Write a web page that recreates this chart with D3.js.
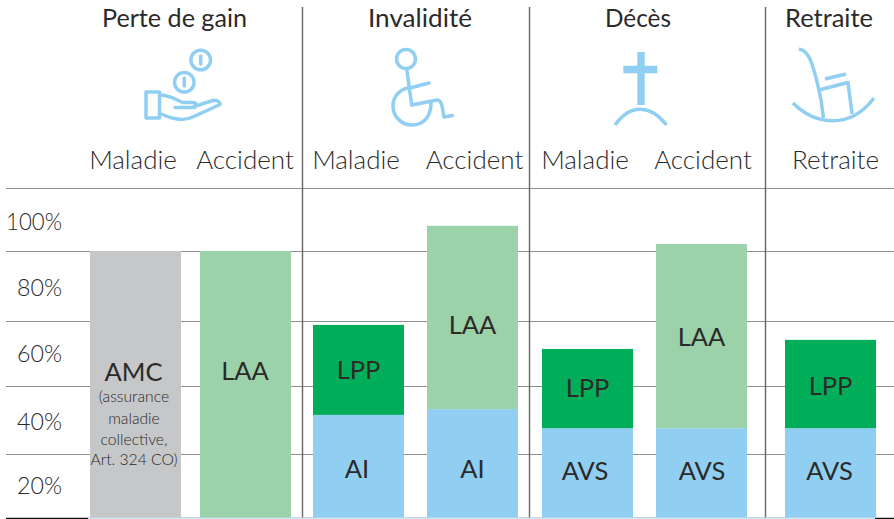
<!DOCTYPE html>
<html><head><meta charset="utf-8">
<script src="https://cdn.jsdelivr.net/npm/d3@7"></script>
<style>html,body{margin:0;padding:0;background:#fff}svg{display:block}text{font-family:Lato,sans-serif;fill:#2b2a29}</style>
</head><body><svg id="c" width="894" height="519"></svg>
<script>
const groups = ["Perte de gain","Invalidité","Décès","Retraite"];
const categories = ["Maladie","Accident","Maladie","Accident","Maladie","Accident","Retraite"];
const tickValues = [20,40,60,80,100];
const tickLabels = ["20%","40%","60%","80%","100%"];
const baseSegment = ["AMC","LAA","AI","AI","AVS","AVS","AVS"];
const baseValues = [80,80,31.5,33.2,27.6,27.6,27.6];
const topSegment = [null,null,"LPP","LAA","LPP","LAA","LPP"];
const topValues = [0,0,27.3,54.8,23.8,54.6,26.6];
const noteLines = ["(assurance","maladie","collective,","Art. 324 CO)"];
const colors = {AMC:"#c6c7c9",LAA:"#9bd2aa",LPP:"#00ae5a",AI:"#91cff2",AVS:"#91cff2"};
const blue = "#91cff2", rule="#8f8f8f";

const svg = d3.select("#c");
const y = d3.scaleLinear().domain([0,20,40,60,80,100]).range([518,454,386,321,251,188]);
const x = d3.scaleOrdinal().domain(d3.range(7)).range([90,200,313,427,542,656,785]);
const barW = 91;

// grid
svg.append("g").selectAll("line").data(tickValues).join("line")
  .attr("x1",6).attr("x2",894).attr("y1",d=>y(d)+.5).attr("y2",d=>y(d)+.5)
  .attr("stroke",rule).attr("stroke-width",1.2);
// tick labels sit below each rule
const tickY = [485,421,353,287,221];
svg.append("g").selectAll("text").data(tickLabels).join("text")
  .attr("x",62).attr("y",(d,i)=>tickY[i]).attr("dy","0.36em")
  .attr("text-anchor","end").attr("font-size",24).attr("font-weight",300)
  .attr("textLength",(d,i)=>i===4?56:45).attr("lengthAdjust","spacingAndGlyphs").text(d=>d);
// baseline
svg.append("line").attr("x1",6).attr("x2",894).attr("y1",518.5).attr("y2",518.5).attr("stroke","#111").attr("stroke-width",1.5);
// dividers
svg.append("g").selectAll("line").data([302,529,765]).join("line")
  .attr("x1",d=>d+.5).attr("x2",d=>d+.5).attr("y1",7).attr("y2",518).attr("stroke","#666").attr("stroke-width",1.4);
// pale strip along the foot of the bars
svg.append("rect").attr("x",88).attr("y",517.5).attr("width",787).attr("height",1.5).attr("fill","#cfe9f9");

// bars
const barsG = svg.append("g");
const topLabelY = [0,0,370,325,388,337,386];
categories.forEach((c,i)=>{
  const top0 = y(baseValues[i]);
  barsG.append("rect").attr("x",x(i)).attr("width",barW).attr("y",top0).attr("height",y(0)-top0-.5).attr("fill",colors[baseSegment[i]]);
  if(topSegment[i]){
    const t1 = y(baseValues[i]+topValues[i]);
    barsG.append("rect").attr("x",x(i)).attr("width",barW).attr("y",t1).attr("height",top0-t1).attr("fill",colors[topSegment[i]]);
    barsG.append("text").attr("x",x(i)+barW/2).attr("y",topLabelY[i]).attr("dy","0.36em")
      .attr("text-anchor","middle").attr("font-size",25.5).text(topSegment[i]);
  }
});
const baseLabelY = [372,371,469,469,471,471,471];
const baseLabelX = [133.5,245,357,472.5,585,702,829.5];
baseSegment.forEach((s,i)=>{
  barsG.append("text").attr("x",baseLabelX[i]).attr("y",baseLabelY[i]).attr("dy","0.36em")
    .attr("text-anchor","middle").attr("font-size",25.5).text(s);
});
noteLines.forEach((l,i)=>{
  barsG.append("text").attr("x",134).attr("y",[396,418,439,459][i]).attr("dy","0.36em")
    .attr("text-anchor","middle").attr("font-size",15.7).attr("font-weight",300).text(l);
});
// headers
const groupX=[174.5,420,638,829];
const groupW=[145,104,66,88];
svg.append("g").selectAll("text").data(groups).join("text")
  .attr("x",(d,i)=>groupX[i]).attr("y",18).attr("dy","0.36em").attr("text-anchor","middle")
  .attr("font-size",25.5).attr("textLength",(d,i)=>groupW[i]).attr("lengthAdjust","spacingAndGlyphs").text(d=>d);
const catX=[133,245,356,474.5,585,703,835.5];
svg.append("g").selectAll("text").data(categories).join("text")
  .attr("x",(d,i)=>catX[i]).attr("y",160).attr("dy","0.36em").attr("text-anchor","middle")
  .attr("font-size",26).attr("font-weight",300).text(d=>d);

// icons
const ic = svg.append("g").attr("fill","none").attr("stroke",blue).attr("stroke-width",3.5).attr("stroke-linecap","round").attr("stroke-linejoin","round");
// hand + coins
ic.append("circle").attr("cx",200.7).attr("cy",60).attr("r",9.8);
ic.append("path").attr("d","M200.7 56V64");
ic.append("circle").attr("cx",184.3).attr("cy",82.3).attr("r",9.8);
ic.append("path").attr("d","M184.3 78V86");
ic.append("path").attr("stroke-linecap","butt").attr("d","M146 92H159.5V118H146Z");
ic.append("path").attr("d","M160 95C170 95 176 100 183 102.5H193C197 102.5 197 107.5 194 107.5H175M194 106.5L213 100.5C218 99.5 222 104 219 105L195 116C186 120.5 180 120 170 117.5L160 113.5");
// wheelchair
ic.append("circle").attr("cx",406).attr("cy",59).attr("r",9.5);
ic.append("path").attr("d","M406.7 69L411.7 105L437 100C440 99.5 441 102 442 106L444 117L452.5 115.5M410 88L429 83");
ic.append("path").attr("d","M408 88C398 90 393 98 393 106C393 117 402 125 412 125C424 125 431 116 431 103");
// cross
ic.append("path").attr("stroke-linecap","butt").attr("stroke-width",7.4).attr("d","M641 52V105M623.3 69.5H657.3");
ic.append("path").attr("stroke-linecap","butt").attr("d","M615 125C630 104 650 104 666.5 125");
// rocking chair
ic.append("path").attr("stroke-linecap","butt").attr("d","M799 49C805 50 809 55 812 64C816 76 819 90 821 100L823.5 118M819 90L848 82.5L852 114M825 79L846 74M793 103C815 125 850 130 874 98");
</script></body></html>
